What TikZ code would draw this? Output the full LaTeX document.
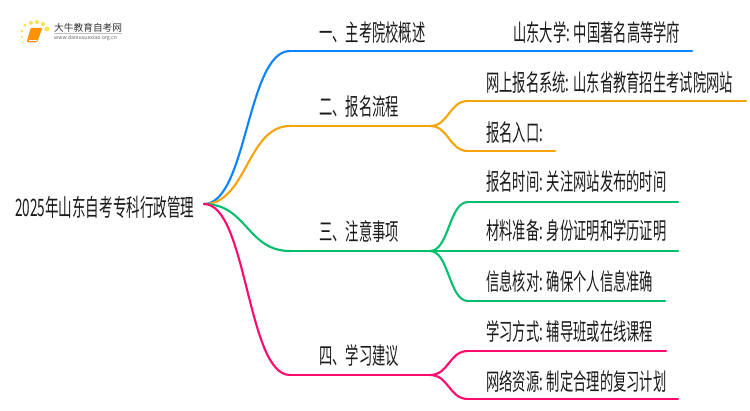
\documentclass[tikz,border=0pt]{standalone}
\usepackage{fontspec}
\setmainfont{Noto Sans CJK SC}[FakeStretch=0.565]
\newfontfamily\logofont{Noto Sans CJK SC}
\definecolor{cblue}{HTML}{0A84FF}
\definecolor{corange}{HTML}{F5A50A}
\definecolor{cgreen}{HTML}{05BF6C}
\definecolor{cpink}{HTML}{FF0A6E}
\definecolor{ctext}{HTML}{1A1A1A}
\tikzset{
 lbl/.style={anchor=west,inner sep=0pt,text=ctext,font=\fontsize{23.5}{24}\selectfont},
 rootlbl/.style={lbl,font=\fontsize{24}{24}\selectfont},
 link/.style={line width=2.5pt,line cap=round},
 trunk/.style={line width=2.1pt,line cap=round},
 curve/.style={to path={.. controls +(#1,0) and +(-#1,0) .. (\tikztotarget)}},
}
\begin{document}
\begin{tikzpicture}[x=1pt,y=-1pt]
\useasboundingbox (0,0) rectangle (750,410);
\fill[white] (0,0) rectangle (750,410);
% logo
\foreach \a/\b/\r in {25/25/1.7,31/23/2,37/22/2,43/24/2,47/29/2.4,22/31/1.4,22/37/1.1,23/42/0.9}
  \fill[yellow!70!orange,opacity=.7] (\a,\b) circle[radius=\r];
\fill[orange!85!yellow,draw=orange,rounded corners=1pt] (31,28) -- (42,28) -- (37,42) -- (27,42) -- cycle;
\draw[white,line width=.5pt] (29,40) -- (37,40);
\node[inner sep=0pt,anchor=west,text=black!80] (logoa) at (54,27.5) {\logofont\fontsize{9.7}{10}\selectfont 大牛教育自考网};
\draw[black!25,line width=.5pt] (54,33) -- (122,33);
\node[inner sep=0pt,anchor=west,text=black!60] (logob) at (54,38.5) {\logofont\fontsize{5.2}{6}\selectfont www.daniuxuexiao.org.cn};
% text
\node[rootlbl] (root) at (15,207) {2025年山东自考专科行政管理};
\node[lbl] (t1) at (319,33) {一、主考院校概述};
\node[lbl] (t2) at (319,107) {二、报名流程};
\node[lbl] (t3) at (319,231) {三、注意事项};
\node[lbl] (t4) at (319,356) {四、学习建议};
\node[lbl] (l11) at (513,33) {山东大学: 中国著名高等学府};
\node[lbl] (l21) at (486,83) {网上报名系统: 山东省教育招生考试院网站};
\node[lbl] (l22) at (486,133) {报名入口:};
\node[lbl] (l31) at (486,182) {报名时间: 关注网站发布的时间};
\node[lbl] (l32) at (486,231) {材料准备: 身份证明和学历证明};
\node[lbl] (l33) at (486,281) {信息核对: 确保个人信息准确};
\node[lbl] (l41) at (486,331) {学习方式: 辅导班或在线课程};
\node[lbl] (l42) at (486,381) {网络资源: 制定合理的复习计划};
% connection points
\coordinate (o) at (204,204);
\coordinate (a1) at (290,51);   \coordinate (e1) at (692,51);
\coordinate (a2) at (290,126);  \coordinate (f2) at (430,126);
\coordinate (a3) at (290,251);  \coordinate (f3) at (430,251);
\coordinate (a4) at (290,375);  \coordinate (f4) at (430,375);
\coordinate (s21) at (468,101); \coordinate (e21) at (746,101);
\coordinate (s22) at (468,151); \coordinate (e22) at (555,151);
\coordinate (s31) at (468,202); \coordinate (e31) at (678,202);
\coordinate (e32) at (678,251);
\coordinate (s33) at (468,301); \coordinate (e33) at (665,301);
\coordinate (s41) at (468,351); \coordinate (e41) at (666,351);
\coordinate (s42) at (468,399); \coordinate (e42) at (678,399);
% connectors
\draw[trunk,cblue] (o) to[curve=43] (a1);
\draw[link,cblue] (a1) -- (e1);
\draw[trunk,corange] (o) to[curve=43] (a2);
\draw[link,corange] (a2) -- (f2);
\draw[trunk,corange] (f2) to[curve=19] (s21);
\draw[link,corange] (s21) -- (e21);
\draw[trunk,corange] (f2) to[curve=19] (s22);
\draw[link,corange] (s22) -- (e22);
\draw[trunk,cgreen] (o) to[curve=43] (a3);
\draw[link,cgreen] (a3) -- (f3);
\draw[trunk,cgreen] (f3) to[curve=19] (s31);
\draw[link,cgreen] (s31) -- (e31);
\draw[link,cgreen] (f3) -- (e32);
\draw[trunk,cgreen] (f3) to[curve=19] (s33);
\draw[link,cgreen] (s33) -- (e33);
\draw[trunk,cpink] (o) to[curve=43] (a4);
\draw[link,cpink] (a4) -- (f4);
\draw[trunk,cpink] (f4) to[curve=19] (s41);
\draw[link,cpink] (s41) -- (e41);
\draw[trunk,cpink] (f4) to[curve=19] (s42);
\draw[link,cpink] (s42) -- (e42);
\end{tikzpicture}
\end{document}
